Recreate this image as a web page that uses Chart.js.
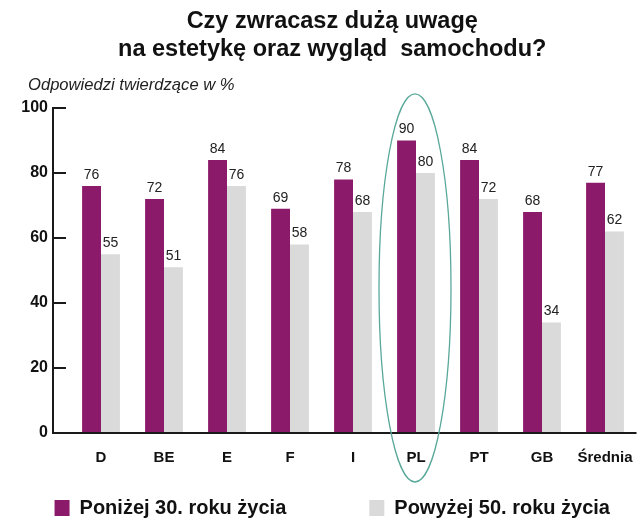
<!DOCTYPE html>
<html><head><meta charset="utf-8">
<script src="https://cdn.jsdelivr.net/npm/chart.js@4.4.1/dist/chart.umd.min.js"></script>
<style>html,body{margin:0;padding:0;background:#fff}#wrap{width:640px;height:530px}</style>
</head><body><div id="wrap"><canvas id="c"></canvas></div>
<script>
const categories = ['D','BE','E','F','I','PL','PT','GB','Średnia'];
const under30 = [76,72,84,69,78,90,84,68,77];
const over50 = [55,51,76,58,68,80,72,34,62];
const yTicks = [0,20,40,60,80,100];
const seriesNames = ['Poniżej 30. roku życia','Powyżej 50. roku życia'];
const titleLines = ['Czy zwracasz dużą uwagę','na estetykę oraz wygląd  samochodu?'];
const subtitleText = 'Odpowiedzi twierdzące w %';
const highlightCategory = 'PL';

const FONT = "'Liberation Sans', Arial, sans-serif";
const LEG_PAD = 83, LEG_H = 62, LEG_ITEM_OFF = 30;
const TRANSPARENT = 'rgba(0,0,0,0)';

const axesPlugin = {
  id:'axesPlugin',
  afterDraw(chart){
    const ctx = chart.ctx, ca = chart.chartArea;
    const y = chart.scales.y, x = chart.scales.x;
    const ax = ca.left - 16.5;
    ctx.save();
    ctx.strokeStyle = '#1a1a1a'; ctx.lineWidth = 2;
    ctx.beginPath();
    ctx.moveTo(ax, y.getPixelForValue(100)-1);
    ctx.lineTo(ax, y.getPixelForValue(0));
    ctx.lineTo(ca.right, y.getPixelForValue(0));
    yTicks.forEach(v=>{ if(v===0) return; const py=y.getPixelForValue(v); ctx.moveTo(ax-1,py); ctx.lineTo(ax+13,py); });
    ctx.stroke();
    const cx = x.getPixelForValue(categories.indexOf(highlightCategory)) - 1;
    const top = ca.top - 14, bottom = ca.bottom + 49;
    ctx.strokeStyle = '#5aa89a'; ctx.lineWidth = 1.3;
    ctx.beginPath();
    ctx.ellipse(cx, (top+bottom)/2, 36, (bottom-top)/2, 0, 0, Math.PI*2);
    ctx.stroke();
    ctx.restore();
  }
};
const valueLabels = {
  id:'valueLabels',
  afterDatasetsDraw(chart){
    const ctx = chart.ctx;
    ctx.save();
    ctx.font = "14px " + FONT; ctx.fillStyle = '#222';
    ctx.textAlign = 'center'; ctx.textBaseline = 'bottom';
    chart.data.datasets.forEach((ds,i)=>{
      chart.getDatasetMeta(i).data.forEach((bar,j)=>{
        ctx.fillText(String(ds.data[j]), bar.x, bar.y - 4);
      });
    });
    ctx.restore();
  }
};
const legendFix = {
  id:'legendFix',
  afterInit(chart){
    const lg = chart.legend; if(!lg) return;
    const fit = lg.fit.bind(lg);
    lg.fit = function(){ const mw=this.maxWidth; this.maxWidth=5000; fit(); this.maxWidth=mw; this.width=mw; this.height=LEG_H; };
    const draw = lg.draw.bind(lg);
    lg.draw = function(){
      const t=this.top, l=this.left, r=this.right;
      this.top = t - LEG_PAD + LEG_ITEM_OFF; this.left = l-500; this.right = r+500;
      draw();
      this.top = t; this.left = l; this.right = r;
    };
  }
};

new Chart(document.getElementById('c'), {
  type:'bar',
  data:{
    labels: categories,
    datasets:[
      {label: seriesNames[0], data: under30, backgroundColor:'#8c1a6a', categoryPercentage:0.6, barPercentage:1.0},
      {label: seriesNames[1], data: over50, backgroundColor:'#dadada', categoryPercentage:0.6, barPercentage:1.0}
    ]
  },
  options:{
    responsive:true, maintainAspectRatio:false, animation:false,
    layout:{padding:{left:28,right:3.5,top:0,bottom:0}},
    plugins:{
      title:{display:true, text:titleLines, color:'#111', font:{family:FONT,size:23.5,weight:'bold',lineHeight:1.17}, padding:{top:8,bottom:0}},
      subtitle:{display:true, text:subtitleText, align:'start', color:'#222', font:{family:FONT,size:16.6,style:'italic',weight:'normal',lineHeight:1.2}, padding:{top:12,bottom:13}},
      legend:{position:'bottom', labels:{boxWidth:15, boxHeight:16, padding:LEG_PAD, color:'#111', font:{family:FONT,size:20,weight:'bold'}}},
      tooltip:{enabled:false}
    },
    scales:{
      x:{afterFit(s){ s.height = 35; },
         grid:{display:true, drawOnChartArea:false, drawTicks:true, tickLength:16, color:TRANSPARENT}, border:{display:false},
         ticks:{color:'#111', padding:0, font:{family:FONT,size:15,weight:'bold'}}},
      y:{min:0, max:100,
         afterFit(s){ s.width = 41.5; s._computeLabelArea = function(){ return undefined; }; },
         grid:{display:true, drawOnChartArea:false, drawTicks:true, tickLength:21.5, color:TRANSPARENT}, border:{display:false},
         ticks:{stepSize:20, color:'#111', padding:0, font:{family:FONT,size:16,weight:'bold'}}}
    }
  },
  plugins:[axesPlugin, valueLabels, legendFix]
});
</script></body></html>
